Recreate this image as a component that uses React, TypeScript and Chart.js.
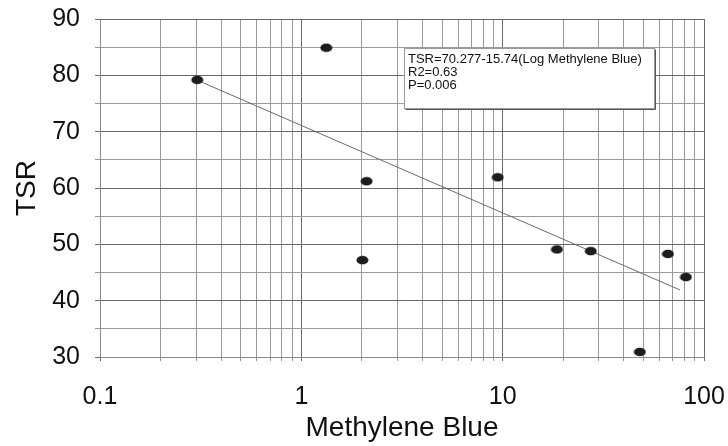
import React, { useEffect, useRef } from "react";
import { Chart, registerables } from "chart.js";

Chart.register(...registerables);

// Scatter data: Methylene Blue (x) vs TSR (y)
const MB_VALUES = [0.304, 1.33, 2.11, 2.01, 9.45, 18.6, 27.4, 48, 66.2, 81.3];
const TSR_VALUES = [79.2, 84.9, 61.2, 47.2, 61.9, 49.1, 48.8, 30.9, 48.3, 44.2];

// Regression line endpoints (as drawn)
const TREND_X = [0.31, 76];
const TREND_Y = [79.0, 41.9];

// Axis ticks / grid
const X_GRID = [
  0.1, 0.2, 0.3, 0.4, 0.5, 0.6, 0.7, 0.8, 0.9,
  1, 2, 3, 4, 5, 6, 7, 8, 9,
  10, 20, 30, 40, 50, 60, 70, 80, 90, 100,
];
const X_LABELS = [0.1, 1, 10, 100];
const Y_GRID = [30, 35, 40, 45, 50, 55, 60, 65, 70, 75, 80, 85, 90];
const Y_LABELS = [30, 40, 50, 60, 70, 80, 90];

const ANNOTATION_LINES = [
  "TSR=70.277-15.74(Log Methylene Blue)",
  "R2=0.63",
  "P=0.006",
];

const FONT = "'Liberation Sans', Arial, sans-serif";

export default function App() {
  const ref = useRef<HTMLCanvasElement | null>(null);

  useEffect(() => {
    if (!ref.current) return;

    const marker = document.createElement("canvas");
    marker.width = 13;
    marker.height = 10;
    const mctx = marker.getContext("2d")!;
    mctx.fillStyle = "#1c1c1c";
    mctx.beginPath();
    mctx.ellipse(6.5, 5, 6, 4.3, 0, 0, Math.PI * 2);
    mctx.fill();

    const annotationPlugin = {
      id: "annotBox",
      afterDatasetsDraw(chart: any) {
        const { ctx, scales } = chart;
        const x0 = Math.round(scales.x.getPixelForValue(3.22)) + 0.5;
        const x1 = Math.round(scales.x.getPixelForValue(56.4)) + 0.5;
        const y0 = Math.round(scales.y.getPixelForValue(84.85)) + 0.5;
        const y1 = Math.round(scales.y.getPixelForValue(74.2)) + 0.5;
        ctx.save();
        ctx.fillStyle = "#ffffff";
        ctx.fillRect(x0, y0, x1 - x0, y1 - y0);
        ctx.strokeStyle = "#9a9a9a";
        ctx.lineWidth = 1;
        ctx.strokeRect(x0, y0, x1 - x0, y1 - y0);
        ctx.strokeStyle = "#555";
        ctx.beginPath();
        ctx.moveTo(x0 + 1, y1 + 1);
        ctx.lineTo(x1 + 1, y1 + 1);
        ctx.lineTo(x1 + 1, y0 + 1);
        ctx.stroke();
        ctx.fillStyle = "#111";
        ctx.font = `13px ${FONT}`;
        ctx.textBaseline = "alphabetic";
        ctx.textAlign = "left";
        ANNOTATION_LINES.forEach((t, i) => {
          ctx.fillText(t, x0 + 3.5, y0 + 14.5 + i * 13);
        });
        ctx.restore();
      },
    };

    const chart = new Chart(ref.current, {
      type: "scatter",
      data: {
        datasets: [
          {
            label: "TSR",
            data: MB_VALUES.map((x, i) => ({ x, y: TSR_VALUES[i] })),
            pointStyle: marker as any,
            pointRadius: 6,
            backgroundColor: "#1c1c1c",
            borderColor: "#1c1c1c",
            order: 1,
          },
          {
            label: "Trend",
            data: TREND_X.map((x, i) => ({ x, y: TREND_Y[i] })),
            showLine: true,
            pointRadius: 0,
            borderColor: "#6a6a6a",
            borderWidth: 1,
            order: 2,
          },
        ],
      },
      options: {
        responsive: false,
        animation: false,
        events: [],
        layout: { padding: { top: 19, right: 24, left: 0, bottom: 0 } },
        plugins: {
          legend: { display: false },
          tooltip: { enabled: false },
        },
        scales: {
          x: {
            type: "logarithmic",
            min: 0.1,
            max: 100,
            afterBuildTicks: (scale: any) => {
              scale.ticks = X_GRID.map((v) => ({ value: v }));
            },
            afterFit: (scale: any) => {
              scale.height = 89;
              scale.paddingLeft = 0;
              scale.paddingRight = 0;
            },
            ticks: {
              autoSkip: false,
              maxRotation: 0,
              color: "#111",
              padding: 21,
              font: { family: FONT, size: 25 },
              callback: (v: any) => (X_LABELS.includes(Number(v)) ? String(v) : ""),
            },
            grid: {
              color: (ctx: any) =>
                ctx.tick && X_LABELS.includes(ctx.tick.value) ? "#6a6a6a" : "#9a9a9a",
              tickLength: 4,
              lineWidth: 1,
            },
            border: { display: true, color: "#8a8a8a" },
            title: {
              display: true,
              text: "Methylene Blue",
              color: "#111",
              font: { family: FONT, size: 28 },
              padding: { top: 0, bottom: 1 },
            },
          },
          y: {
            type: "linear",
            min: 30,
            max: 90,
            afterBuildTicks: (scale: any) => {
              scale.ticks = Y_GRID.map((v) => ({ value: v }));
            },
            afterFit: (scale: any) => {
              scale.width = 100;
              scale.paddingTop = 0;
              scale.paddingBottom = 0;
            },
            ticks: {
              autoSkip: false,
              color: "#111",
              padding: 15,
              font: { family: FONT, size: 25 },
              callback: (v: any) => (Y_LABELS.includes(Number(v)) ? String(v) : ""),
            },
            grid: {
              color: (ctx: any) =>
                ctx.tick && Y_LABELS.includes(ctx.tick.value) ? "#6a6a6a" : "#9a9a9a",
              tickLength: 5,
              lineWidth: 1,
            },
            border: { display: true, color: "#8a8a8a" },
            title: {
              display: true,
              text: "TSR",
              color: "#111",
              font: { family: FONT, size: 28 },
              padding: { top: 10, bottom: 0 },
            },
          },
        },
      },
      plugins: [annotationPlugin],
    });

    return () => chart.destroy();
  }, []);

  return (
    <div style={{ position: "fixed", left: 0, top: 0, width: 728, height: 446, background: "#fff" }}>
      <canvas ref={ref} width={728} height={446} style={{ width: 728, height: 446, display: "block" }} />
    </div>
  );
}
